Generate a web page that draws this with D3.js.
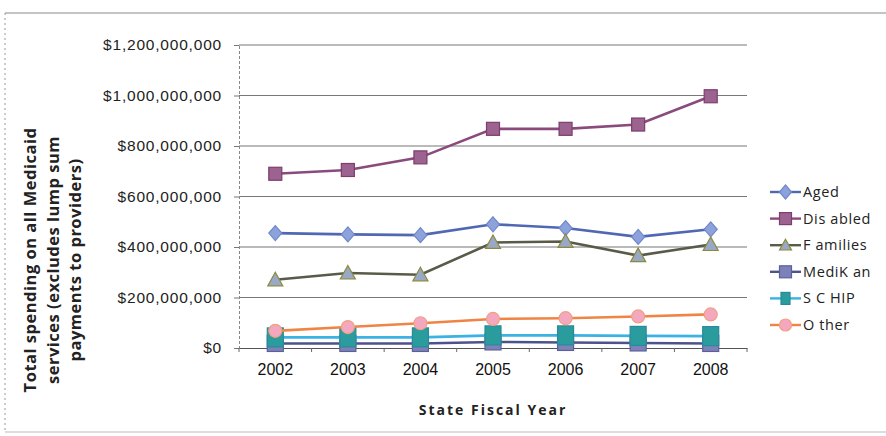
<!DOCTYPE html>
<html>
<head>
<meta charset="utf-8">
<script src="https://cdn.jsdelivr.net/npm/d3@7"></script>
<style>
  html, body { margin: 0; padding: 0; background: #fff; }
  svg { display: block; font-family: "Open Sans", sans-serif; }
</style>
</head>
<body>
<svg id="chart" width="886" height="436"></svg>
<script>
// State fiscal years
const years = ["2002", "2003", "2004", "2005", "2006", "2007", "2008"];

// Spending by eligibility group (dollars)
const aged     = [455e6, 450e6, 447e6, 490e6, 475e6, 440e6, 470e6];
const disabled = [690e6, 705e6, 755e6, 868e6, 868e6, 885e6, 997e6];
const families = [270e6, 297e6, 290e6, 418e6, 422e6, 366e6, 410e6];
const medikan  = [18e6, 18e6, 18e6, 24e6, 22e6, 20e6, 18e6];
const schip    = [42e6, 42e6, 42e6, 50e6, 50e6, 48e6, 47e6];
const other    = [68e6, 83e6, 98e6, 115e6, 118e6, 125e6, 133e6];

const yTicks = [0, 200e6, 400e6, 600e6, 800e6, 1000e6, 1200e6];

const series = [
  { name: "Aged",     values: aged,     line: "#5068b4", fill: "#8da2dc", stroke: "#7088c8", shape: "diamond",  size: 13 },
  { name: "Disabled", values: disabled, line: "#8a4a7c", fill: "#9c6290", stroke: "#7c3e6e", shape: "square",   size: 13 },
  { name: "Families", values: families, line: "#5a5a48", fill: "#9aa8c8", stroke: "#8a8a3a", shape: "triangle", size: 15 },
  { name: "MediKan",  values: medikan,  line: "#4e528c", fill: "#7c82b8", stroke: "#5c609a", shape: "square",   size: 16 },
  { name: "SCHIP",    values: schip,    line: "#3bb2e4", fill: "#2b9c9e", stroke: "#2a8a9a", shape: "square",   size: 19 },
  { name: "Other",    values: other,    line: "#f08444", fill: "#f4a8c0", stroke: "#f0a080", shape: "circle",   size: 13 }
];
const legendLabels = ["Aged", "Dis abled", "F amilies", "MediK an", "S C HIP", "O ther"];

const svg = d3.select("#chart");

// Outer frame
svg.append("line").attr("x1", 5).attr("x2", 886).attr("y1", 13).attr("y2", 13)
  .attr("stroke", "#888").attr("stroke-width", 1);
svg.append("line").attr("x1", 5).attr("x2", 5).attr("y1", 13).attr("y2", 432)
  .attr("stroke", "#999").attr("stroke-width", 1).attr("stroke-dasharray", "2,3");
svg.append("line").attr("x1", 5).attr("x2", 886).attr("y1", 432).attr("y2", 432)
  .attr("stroke", "#bbb").attr("stroke-width", 1);

const plot = { left: 239, right: 747, top: 45, bottom: 348 };

const x = d3.scaleBand().domain(years).range([plot.left, plot.right]);
const y = d3.scaleLinear().domain([0, 1200e6]).range([plot.bottom, plot.top]);

// Gridlines
svg.append("g").selectAll("line").data(yTicks.slice(1)).join("line")
  .attr("x1", plot.left).attr("x2", plot.right)
  .attr("y1", d => y(d)).attr("y2", d => y(d))
  .attr("stroke", "#777").attr("stroke-width", 1.2);

// Y axis
const fmt = d => "$" + d3.format(",")(d);
const yAxis = svg.append("g").attr("transform", `translate(${plot.left},0)`)
  .call(d3.axisLeft(y).tickValues(yTicks).tickFormat(fmt).tickSize(5).tickPadding(12));
yAxis.select(".domain").attr("stroke", "#888").attr("stroke-dasharray", "3,2");
yAxis.selectAll(".tick line").attr("stroke", "#777");
yAxis.selectAll("text").attr("font-size", 15.5).attr("letter-spacing", 0.8).attr("fill", "#222");

// X axis
const xAxis = svg.append("g").attr("transform", `translate(0,${plot.bottom})`)
  .call(d3.axisBottom(x).tickSize(0).tickPadding(16));
xAxis.select(".domain").attr("stroke", "#555").attr("stroke-width", 1.2);
xAxis.selectAll("text").attr("font-size", 16).attr("fill", "#111");
// Category boundary ticks
svg.append("g").selectAll("line").data(years.concat(["end"])).join("line")
  .attr("x1", (d, i) => plot.left + i * x.step()).attr("x2", (d, i) => plot.left + i * x.step())
  .attr("y1", plot.bottom).attr("y2", plot.bottom + 4)
  .attr("stroke", "#666");

// Axis titles
svg.append("text").attr("x", (plot.left + plot.right) / 2).attr("y", 415)
  .attr("text-anchor", "middle").attr("font-size", 14).attr("font-weight", "bold")
  .attr("letter-spacing", 2).attr("fill", "#222").text("State Fiscal Year");

const yTitle = svg.append("text").attr("transform", "translate(0,260) rotate(-90)")
  .attr("text-anchor", "middle").attr("font-size", 16.5).attr("font-weight", "bold")
  .attr("letter-spacing", 0.5).attr("fill", "#222");
["Total spending on all Medicaid", "services (excludes lump sum", "payments to providers)"]
  .forEach((t, i) => yTitle.append("tspan").attr("x", 0).attr("y", 36 + i * 22.5).text(t));

// Marker drawing
function marker(g, s, cx, cy) {
  const h = s.size / 2;
  let el;
  if (s.shape === "diamond") {
    el = g.append("path").attr("d", `M${cx},${cy - h - 1}L${cx + h},${cy}L${cx},${cy + h + 1}L${cx - h},${cy}Z`);
  } else if (s.shape === "square") {
    const w = s.name === "SCHIP" ? s.size - 3 : s.size;
    el = g.append("rect").attr("x", cx - w / 2).attr("y", cy - h).attr("width", w).attr("height", s.size);
  } else if (s.shape === "triangle") {
    el = g.append("path").attr("d", `M${cx},${cy - h}L${cx + h},${cy + h * 0.8}L${cx - h},${cy + h * 0.8}Z`);
  } else {
    el = g.append("circle").attr("cx", cx).attr("cy", cy).attr("r", h);
  }
  el.attr("fill", s.fill).attr("stroke", s.stroke).attr("stroke-width", 1.2);
}

const line = d3.line().x((d, i) => x(years[i]) + x.bandwidth() / 2).y(d => y(d));

// Each series: line, then its markers
series.forEach(s => {
  const g = svg.append("g");
  g.append("path").datum(s.values).attr("d", line)
    .attr("fill", "none").attr("stroke", s.line).attr("stroke-width", 2.6);
  s.values.forEach((v, i) => marker(g, s, x(years[i]) + x.bandwidth() / 2, y(v)));
});

// Legend
const legend = svg.append("g");
series.forEach((s, i) => {
  const ly = 192 + i * 26.6;
  const g = legend.append("g");
  g.append("line").attr("x1", 770).attr("x2", 801).attr("y1", ly).attr("y2", ly)
    .attr("stroke", s.line).attr("stroke-width", 2.4);
  marker(g, Object.assign({}, s, { size: Math.min(s.size, 12) }), 785.5, ly);
  g.append("text").attr("x", 803).attr("y", ly + 5).attr("font-size", 14.5)
    .attr("fill", "#222").attr("letter-spacing", 0.6).text(legendLabels[i]);
});
</script>
</body>
</html>
